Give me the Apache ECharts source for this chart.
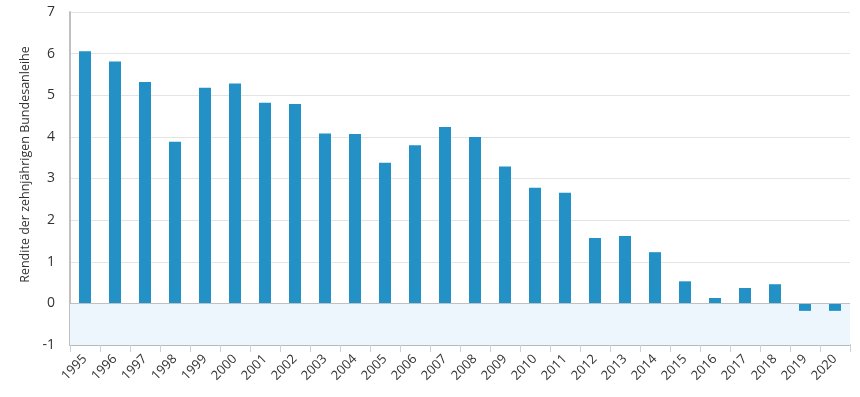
<!DOCTYPE html>
<html>
<head>
<meta charset="utf-8">
<script src="https://cdn.jsdelivr.net/npm/echarts@6/dist/echarts.min.js"></script>
<style>
  html, body { margin: 0; padding: 0; background: #fff; }
  #chart { width: 860px; height: 397px; }
</style>
</head>
<body>
<div id="chart"></div>
<script>
var years = ["1995", "1996", "1997", "1998", "1999", "2000", "2001", "2002", "2003", "2004",
  "2005", "2006", "2007", "2008", "2009", "2010", "2011", "2012", "2013", "2014",
  "2015", "2016", "2017", "2018", "2019", "2020"];
var yields = [6.06, 5.81, 5.32, 3.88, 5.18, 5.28, 4.82, 4.79, 4.08, 4.07,
  3.38, 3.80, 4.24, 4.00, 3.29, 2.78, 2.66, 1.57, 1.62, 1.23,
  0.53, 0.13, 0.37, 0.46, -0.18, -0.18];
var yTitle = "Rendite der zehnjährigen Bundesanleihe";

var chart = echarts.init(document.getElementById("chart"), null, { renderer: "canvas" });
var font = "'Open Sans', sans-serif";

chart.setOption({
  animation: false,
  grid: { left: 70, right: 10, top: 12, bottom: 52 },
  xAxis: {
    type: "category",
    data: years,
    axisLine: { onZero: false, lineStyle: { color: "#b8b8b8", width: 2 } },
    axisTick: { show: true, length: 7, lineStyle: { color: "#d0d0d0" } },
    axisLabel: { rotate: 45, color: "#333", fontSize: 13, fontFamily: font, margin: 12 }
  },
  yAxis: {
    type: "value",
    min: -1,
    max: 7,
    interval: 1,
    name: yTitle,
    nameLocation: "middle",
    nameGap: 24,
    nameTextStyle: { color: "#333", fontSize: 12.5, fontFamily: font, padding: [0, 0, 0, 28] },
    axisLine: { show: true, lineStyle: { color: "#c0c0c0", width: 2 } },
    axisTick: { show: false },
    axisLabel: { color: "#333", fontSize: 14, fontFamily: font, margin: 15 },
    splitLine: { lineStyle: { color: "#e4e4e4" } }
  },
  series: [{
    type: "bar",
    data: yields,
    barWidth: "40%",
    itemStyle: { color: "#2391c6" },
    markArea: {
      silent: true,
      itemStyle: { color: "#eef6fd" },
      data: [[{ yAxis: -1 }, { yAxis: 0 }]]
    },
    markLine: {
      silent: true,
      symbol: "none",
      label: { show: false },
      lineStyle: { color: "#c0c0c0", type: "solid", width: 1 },
      data: [{ yAxis: 0 }]
    }
  }]
});
</script>
</body>
</html>
